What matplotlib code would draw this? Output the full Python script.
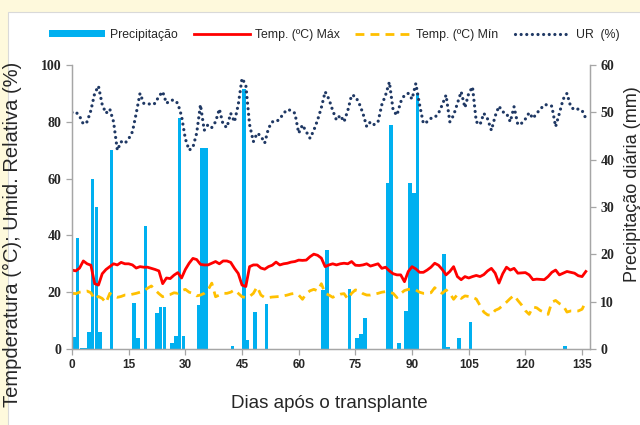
import matplotlib
matplotlib.use("Agg")
import matplotlib.pyplot as plt
from matplotlib.patches import Patch, Rectangle
from matplotlib.lines import Line2D
import numpy as np

days = list(range(0, 137))

temp_max = [27.8, 27.5, 28.5, 31, 30, 29.5, 23, 22.5, 26.5, 28, 29, 30, 29.6, 30.5, 30, 30, 29.6,
            28.5, 29, 28.8, 28.8, 28.4, 28, 27.5, 23, 25, 24.8, 26, 26.9, 25, 28, 30.2, 31.9, 31.5,
            29.8, 29.6, 29.6, 30.2, 30.8, 30, 31, 31, 30.5, 28.4, 26.6, 22.5, 22, 29, 29.6, 29.6,
            28.5, 28.1, 29, 29.5, 30.6, 29.6, 30, 30.2, 30.6, 30.8, 31.3, 31.2, 31.3, 32.5, 33.4,
            33, 32, 29, 29.6, 30, 29.6, 30, 30.2, 30, 30.8, 29.5, 29.4, 29.6, 30, 29.2, 29.6, 30,
            28.4, 28.8, 27.5, 26.5, 26.1, 26.1, 23.7, 27.3, 29, 28.2, 27, 27, 27.8, 28.8, 30.2,
            29.5, 28, 26.1, 27.3, 29, 25.5, 24.4, 25.5, 25, 25.5, 25.9, 25.5, 26.2, 27.5, 28.4,
            26.7, 23.2, 26.5, 28.8, 27.8, 28.4, 26.7, 26.8, 26.9, 26.1, 24.4, 24.6, 24.5, 24.4,
            25.5, 27, 27.8, 26.1, 26.7, 27.3, 27, 26.7, 25.8, 25.5, 27.3]

temp_min = [19.6, 19.5, 20, 20.2, 20.4, 19.8, 17.5, 18.5, 17.8, 16.3, 19.6, 18.7, 18.2, 18.5, 19,
            19, 19.3, 19.6, 20, 20.5, 21.4, 22.2, 20.8, 19.5, 18.4, 19, 19.2, 19.8, 19.6, 20.5, 21,
            20, 19.6, 18.7, 19, 19.6, 20.8, 23.2, 18.4, 19, 19.6, 19.6, 20, 20.8, 19.6, 18.4, 18.1,
            18.5, 19.6, 21.9, 19, 18.1, 18.1, 18.3, 18.4, 18.5, 18.7, 19, 19.4, 19.6, 19, 17.5,
            19.5, 20.5, 21, 20.5, 23, 19.6, 19, 18.2, 18.8, 19.3, 19.5, 17.6, 19.6, 20.8, 20.5,
            19.5, 19, 19, 19.3, 19.6, 20, 20.2, 20, 19.6, 18.1, 19.5, 20.6, 21, 21.1, 20.8, 20,
            19.6, 19.6, 19.8, 21.6, 20.2, 19.6, 20.8, 19.6, 17.5, 19.2, 17.8, 18.7, 18.5, 18.2,
            17.6, 15.3, 13, 12, 11.9, 13.6, 14.2, 15.3, 16.5, 17.8, 18.9, 17.1, 15.5, 13.5, 12.2,
            14.8, 14.5, 13.5, 13, 12.2, 16.5, 17.1, 16, 15.3, 13, 13.4, 13.4, 13.4, 14, 16.7]

ur = [83.3, 83.5, 82, 79.2, 80, 84, 90, 92.6, 86, 83, 84.5, 80, 70, 73, 72.4, 74, 76.5, 83, 90,
      86.5, 86.5, 86, 86.5, 89, 90.6, 86.5, 87.5, 87.7, 86.5, 82, 74, 70, 71, 76, 86, 77, 79,
      78, 80, 84.5, 79, 78, 83, 80, 86, 95.3, 93, 79, 73, 76, 75, 72.5, 77.7, 80, 80, 81, 83,
      84.3, 84, 83, 76, 78.9, 76.5, 74.2, 77, 80.6, 85, 90.6, 88, 84, 80.6, 82.3, 80, 84, 89.4,
      89, 86.5, 83, 78.3, 80, 79, 80, 86, 89.4, 94, 84, 82.3, 87, 89.4, 90, 88, 93.5, 86, 79.4,
      80, 81.2, 81.5, 83, 86, 89.4, 80, 82.3, 86.5, 90.6, 85, 90, 92.3, 80, 79, 83, 81, 77, 82,
      85.5, 83.5, 83, 80, 85.3, 79, 79.5, 81, 83.2, 81.2, 83, 84.5, 86, 86, 85.5, 78.3, 83, 88,
      90, 85.3, 84.2, 84.5, 84, 81.2]

rain_days = [0, 1, 2, 3, 4, 5, 6, 7, 10, 16, 17, 19, 22, 23, 24, 26, 27, 28, 29, 33, 34, 35, 42,
             45, 46, 48, 51, 66, 67, 73, 75, 76, 77, 83, 84, 86, 88, 89, 90, 91, 98, 99, 102,
             105, 130]
rain_mm = [2.5, 23.5, 0.3, 0.3, 3.6, 36, 30, 3.6, 42, 9.7, 2.3, 26, 7.6, 8.8, 8.8, 1.3, 2.8,
           48.8, 2.8, 9.2, 42.5, 42.5, 0.6, 55, 1.9, 7.8, 9.5, 12.4, 21, 12.6, 2.3, 3.1, 6.6, 35,
           47.4, 1.3, 8, 35, 33, 54, 20, 0.5, 2.3, 5.7, 0.6]

x_ticks = [0, 15, 30, 45, 60, 75, 90, 105, 120, 135]
left_ticks = [0, 20, 40, 60, 80, 100]
right_ticks = [0, 10, 20, 30, 40, 50, 60]

W, H = 640, 425
fig = plt.figure(figsize=(W / 100, H / 100), dpi=100)
fig.patch.set_facecolor("#FEF9DC")
fig.patches.append(Rectangle((8 / W, -0.01), 1, 1 - 12 / H + 0.01, transform=fig.transFigure,
                             facecolor="white", edgecolor="#D9D9D9", linewidth=0.8, zorder=-5))

ax = fig.add_axes([72 / W, 1 - 349 / H, (590 - 72) / W, (349 - 65) / H])
ax2 = ax.twinx()
ax2.set_zorder(1)
ax.set_zorder(2)
ax.patch.set_visible(False)
ax2.patch.set_visible(False)

blue = "#00B0F0"
ur_style = (0, (0.01, 1.75))
ax2.bar(rain_days, rain_mm, width=0.95, align="edge", color=blue, linewidth=0)
ax.plot(days, temp_max, color="#FF0000", lw=2.0)
ax.plot(days, temp_min, color="#FFC000", lw=2.0, linestyle=(0, (3.2, 2.2)))
ax.plot(days, ur, color="#1F3864", lw=2.3, linestyle=ur_style, dash_capstyle="round")

ax.set_xlim(0, 137.1)
ax.set_ylim(0, 100)
ax2.set_ylim(0, 60)
ax.set_xticks(x_ticks)
ax.set_yticks(left_ticks)
ax2.set_yticks(right_ticks)

tick_col = "#262626"
spine_col = "#A6A6A6"
for a in (ax, ax2):
    for s in a.spines.values():
        s.set_color(spine_col)
        s.set_linewidth(0.9)
    a.spines["top"].set_visible(False)
    a.tick_params(colors=spine_col, labelcolor=tick_col, length=4, width=0.9, direction="out")

for lab in ax.get_xticklabels():
    lab.set_fontfamily("Liberation Sans")
    lab.set_fontweight("bold")
    lab.set_fontsize(8.5)
for lab in ax.get_yticklabels() + ax2.get_yticklabels():
    lab.set_fontfamily("Liberation Serif")
    lab.set_fontweight("bold")
    lab.set_fontsize(10)
ax.tick_params(axis="x", pad=3)

ax.set_xlabel("Dias após o transplante", fontsize=13.5, family="Liberation Sans", color=tick_col)
ax.xaxis.set_label_coords((329 - 72) / 518, (349 - 395) / 284)
ax.set_ylabel("Tempderatura (°C); Umid. Relativa (%)", fontsize=14.5, family="Liberation Sans",
              color=tick_col)
ax.yaxis.set_label_coords((22 - 72) / 518, (349 - 234) / 284)
ax2.set_ylabel("Precipitação diária (mm)", fontsize=13, family="Liberation Sans",
               color=tick_col, rotation=90)
ax2.yaxis.set_label_coords((624 - 72) / 518, (349 - 184) / 284)

handles = [Patch(facecolor=blue, edgecolor="none"),
           Line2D([], [], color="#FF0000", lw=2.0),
           Line2D([], [], color="#FFC000", lw=2.0, linestyle=(0, (3.2, 2.2))),
           Line2D([], [], color="#1F3864", lw=2.3, linestyle=ur_style, dash_capstyle="round")]
labels = ["Precipitação", "Temp. (ºC) Máx", "Temp. (ºC) Mín", "UR  (%)"]
leg = fig.legend(handles, labels, loc="center", bbox_to_anchor=(334 / W, 1 - 35 / H), ncol=4,
                 frameon=False, handlelength=4.6, handleheight=0.5,
                 columnspacing=1.3, handletextpad=0.4, prop={"family": "Liberation Sans", "size": 8.8})
for t in leg.get_texts():
    t.set_color(tick_col)

fig.savefig("out.png", dpi=100, facecolor=fig.get_facecolor())
